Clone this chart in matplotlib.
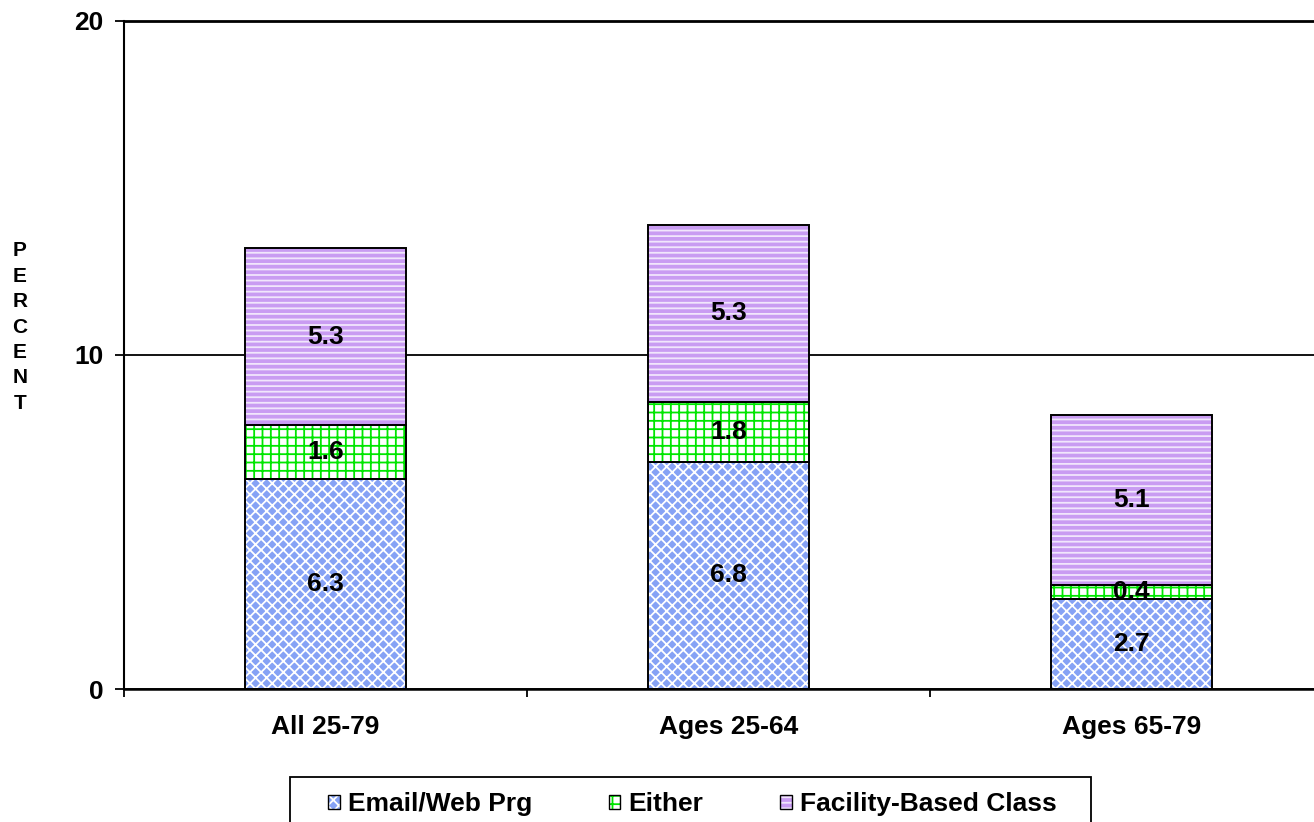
import numpy as np
import matplotlib
matplotlib.use("Agg")
from matplotlib import pyplot as plt
from matplotlib.patches import Rectangle
from matplotlib.legend_handler import HandlerTuple

plt.rcParams["font.family"] = ["Liberation Sans", "DejaVu Sans"]
plt.rcParams["font.weight"] = "bold"
plt.rcParams["hatch.linewidth"] = 1.3

# data
categories = ["All 25-79", "Ages 25-64", "Ages 65-79"]
series_names = ["Email/Web Prg", "Either", "Facility-Based Class"]
email_web = [6.3, 6.8, 2.7]
either = [1.6, 1.8, 0.4]
facility = [5.3, 5.3, 5.1]

# fill colour, hatch colour, hatch pattern
styles = [
    ("#86A2F5", "white", "xxx"),
    ("white", "#00E600", "++"),
    ("#C99CF2", "#F1E6FC", "---"),
]

fig = plt.figure(figsize=(13.14, 8.22), dpi=100)
ax = fig.add_axes([124 / 1314, 133 / 822, 1209 / 1314, 668 / 822])

x = np.arange(len(categories))
width = 0.4
bottom = np.zeros(len(categories))
handles = []
for vals, name, (fc, hc, hatch) in zip([email_web, either, facility], series_names, styles):
    vals = np.array(vals)
    bars = ax.bar(x, vals, width, bottom=bottom, color=fc, edgecolor=hc,
                  hatch=hatch, linewidth=0, zorder=3, label=name)
    ax.bar(x, vals, width, bottom=bottom, fill=False, edgecolor="black",
           linewidth=1.4, zorder=4)
    for xi, b, v in zip(x, bottom, vals):
        ax.text(xi, b + v / 2, f"{v:.1f}", ha="center", va="center",
                fontsize=19, fontweight="bold", zorder=5)
    # legend key: hatched patch plus a black outline on top
    outline = Rectangle((0, 0), 1, 1, fill=False, edgecolor="black", linewidth=1.0)
    handles.append((bars, outline))
    bottom = bottom + vals

ax.set_xlim(-0.5, 2.5)
ax.set_ylim(0, 20)
ax.set_yticks([0, 10, 20])
ax.set_yticklabels(["0", "10", "20"])
ax.set_xticks(x)
ax.set_xticklabels(categories)
ax.set_xticks([-0.5, 0.5, 1.5, 2.5], minor=True)

ax.tick_params(axis="y", direction="out", length=6.5, width=1.3, pad=8,
               labelsize=19)
ax.tick_params(axis="x", which="major", length=0, pad=19, labelsize=19)
ax.tick_params(axis="x", which="minor", direction="out", length=6, width=1.3)
for lab in ax.get_xticklabels() + ax.get_yticklabels():
    lab.set_fontweight("bold")

ax.yaxis.grid(True, color="black", linewidth=1.3, zorder=1)
ax.set_axisbelow(True)
ax.spines["right"].set_visible(False)
ax.spines["top"].set_linewidth(2.0)
ax.spines["left"].set_linewidth(1.5)
ax.spines["bottom"].set_linewidth(1.8)
ax.spines["bottom"].set_zorder(6)

fig.text(20 / 1314, 1 - 327 / 822, "P\nE\nR\nC\nE\nN\nT", ha="center",
         va="center", fontsize=15, fontweight="bold", linespacing=1.43)

# legend box
fig.patches.append(Rectangle((290 / 1314, 1 - 832 / 822), 801 / 1314, 55 / 822,
                             transform=fig.transFigure, fill=False,
                             edgecolor="black", linewidth=1.3))
leg = fig.legend(handles, series_names, loc="center left",
                 bbox_to_anchor=(328 / 1314, 1 - 804 / 822), ncol=3,
                 frameon=False, fontsize=19, handlelength=0.45,
                 handleheight=0.45, handletextpad=0.3, columnspacing=2.9,
                 borderpad=0, borderaxespad=0,
                 handler_map={tuple: HandlerTuple(ndivide=1)})
for t in leg.get_texts():
    t.set_fontweight("bold")

fig.savefig("out.png", dpi=100)
